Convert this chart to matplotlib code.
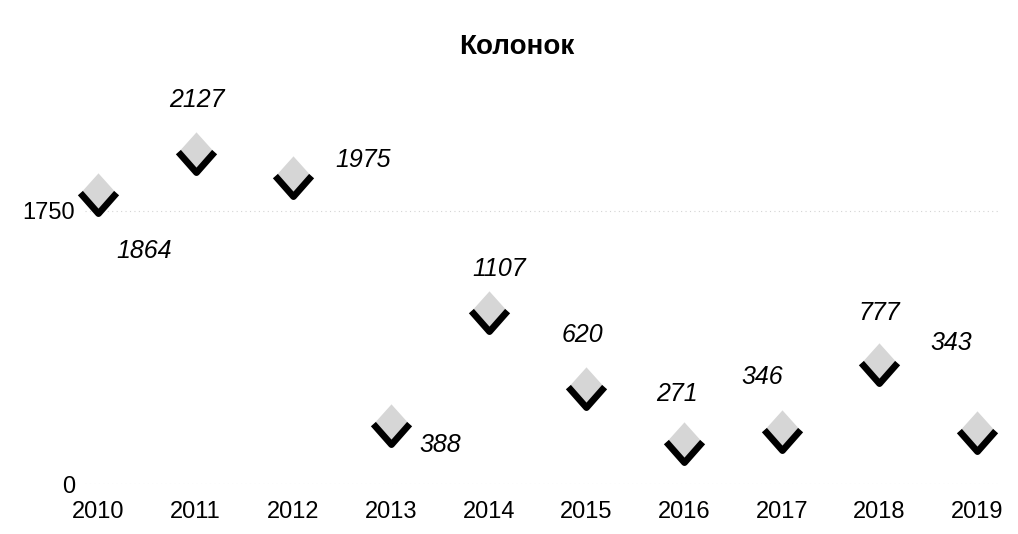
import matplotlib
matplotlib.use("Agg")
import matplotlib.pyplot as plt
from matplotlib.path import Path

plt.rcParams['font.family'] = ['Liberation Sans', 'DejaVu Sans']

title = "Колонок"
years = [2010, 2011, 2012, 2013, 2014, 2015, 2016, 2017, 2018, 2019]
values = [1864, 2127, 1975, 388, 1107, 620, 271, 346, 777, 343]
ytick_values = [0, 1750]

# label offsets (pixels, x right / y down) of label centre from point
label_dx = [46, 1, 70, 49, 10, -4, -7, -19, 0, -26]
label_dy = [56, -53, -17, 20, -44, -54, -50, -55, -51, -89]

W, H = 1018, 534
fig = plt.figure(figsize=(W / 100, H / 100), dpi=100)
ax_left, ax_right, ax_bottom, ax_top = 85, 1000, 484.4, 70
ax = fig.add_axes([ax_left / W, (H - ax_bottom) / H,
                   (ax_right - ax_left) / W, (ax_bottom - ax_top) / H])
ax.set_xlim(2009.867, 2019.235)
ax.set_ylim(0, 2651)
for s in ax.spines.values():
    s.set_visible(False)

ax.set_xticks(years)
ax.set_xticklabels([str(y) for y in years])
ax.set_yticks(ytick_values)
ax.set_yticklabels([str(v) for v in ytick_values])
ax.tick_params(axis='x', length=0, pad=12, labelsize=17, colors='black')
ax.tick_params(axis='y', length=0, pad=7, labelsize=17, colors='black')
ax.yaxis.grid(True, color='#d4d4d4', linestyle=(0, (1, 3)), linewidth=0.8)
ax.set_axisbelow(True)

diamond = Path([(0, 1), (0.9, 0), (0, -1), (-0.9, 0), (0, 1)],
               [Path.MOVETO, Path.LINETO, Path.LINETO, Path.LINETO, Path.CLOSEPOLY])
vee = Path([(-0.9, 0.02), (0, -1), (0.9, 0.02)],
           [Path.MOVETO, Path.LINETO, Path.LINETO])

ax.plot(years, values, linestyle='none', marker=diamond, markersize=29,
        markerfacecolor='#d6d6d6', markeredgecolor='none',
        clip_on=False, zorder=3)
ax.plot(years, values, linestyle='none', marker=vee, markersize=29,
        markerfacecolor='none', markeredgecolor='black', markeredgewidth=4.8,
        clip_on=False, zorder=4)

for x, v, dx, dy in zip(years, values, label_dx, label_dy):
    ax.annotate(str(v), (x, v), xytext=(dx, -(dy + 8.5)), textcoords='offset pixels',
                ha='center', va='baseline', fontsize=18, fontstyle='italic',
                color='black', zorder=5, annotation_clip=False)

fig.text(517 / W, (H - 54) / H, title, ha='center', va='baseline',
         fontsize=20, fontweight='bold', color='black')

fig.savefig("out.png", dpi=100)
